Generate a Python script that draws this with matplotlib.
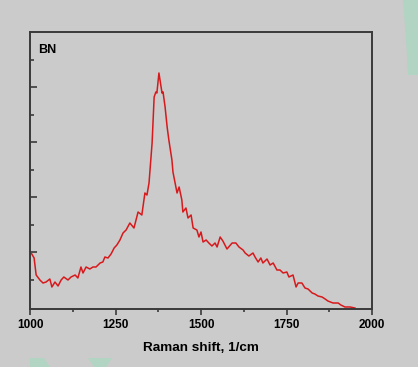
import matplotlib
matplotlib.use("Agg")
import matplotlib.pyplot as plt
from matplotlib.ticker import MultipleLocator
from matplotlib.patches import Polygon

plt.rcParams['font.family'] = ['Liberation Sans', 'DejaVu Sans']

# Raman spectrum of BN
shift = [1000, 1012, 1018, 1029, 1038, 1047, 1058, 1064, 1073, 1082, 1091, 1099,
         1111, 1120, 1132, 1140, 1149, 1155, 1164, 1175, 1184, 1193, 1205, 1213,
         1219, 1228, 1237, 1246, 1254, 1263, 1272, 1281, 1292, 1304, 1316, 1327,
         1336, 1342, 1348, 1357, 1363, 1368, 1371, 1377, 1386, 1389, 1395, 1401,
         1406, 1415, 1418, 1430, 1436, 1444, 1447, 1456, 1462, 1471, 1477, 1488,
         1494, 1500, 1506, 1515, 1523, 1532, 1541, 1547, 1556, 1564, 1576, 1591,
         1602, 1611, 1623, 1629, 1640, 1652, 1658, 1667, 1675, 1681, 1693, 1702,
         1711, 1722, 1731, 1740, 1751, 1757, 1769, 1778, 1784, 1795, 1804, 1813,
         1825, 1833, 1842, 1854, 1863, 1871, 1886, 1901, 1909, 1921, 1936, 1950]
intensity = [58, 51, 34, 29, 26, 27, 30, 22, 27, 23, 29, 32,
             29, 32, 34, 31, 42, 36, 42, 40, 42, 42, 46, 47,
             52, 51, 55, 61, 64, 69, 76, 79, 86, 81, 97, 94,
             116, 114, 126, 166, 212, 217, 216, 236, 216, 217, 202, 182,
             169, 149, 137, 116, 122, 109, 97, 101, 91, 94, 81, 79,
             72, 77, 67, 69, 66, 63, 66, 62, 72, 68, 60, 66,
             66, 62, 59, 56, 53, 56, 52, 47, 51, 46, 50, 44,
             46, 39, 39, 36, 37, 32, 34, 22, 26, 26, 21, 20,
             16, 15, 13, 12, 10, 8, 6, 6, 4, 2, 2, 1]

bg = '#cbcbcb'
fig = plt.figure(figsize=(4.18, 3.67), dpi=100, facecolor=bg)
ax = fig.add_axes([30/418, 1 - 309/367, 342/418, 277/367], facecolor=bg)

ax.plot(shift, intensity, color='#d7191c', lw=1.1)

ax.set_xlim(1000, 2000)
ax.set_ylim(0, 277)
ax.xaxis.set_major_locator(MultipleLocator(250))
ax.xaxis.set_minor_locator(MultipleLocator(125))
ax.set_yticks([57, 112, 167, 222])
ax.set_yticks([29.5, 84.5, 139.5, 194.5, 249.5], minor=True)
ax.set_yticklabels([])

for s in ax.spines.values():
    s.set_color('#3a3a3a')
    s.set_linewidth(1.4)
ax.tick_params(axis='x', which='major', direction='out', length=4, width=1.2,
               color='#3a3a3a', labelsize=8.5, pad=3)
ax.tick_params(axis='x', which='minor', direction='out', length=2.5, width=1.2,
               color='#3a3a3a')
ax.tick_params(axis='y', which='major', direction='in', length=5, width=1.2,
               color='#3a3a3a')
ax.tick_params(axis='y', which='minor', direction='in', length=3, width=1.2,
               color='#3a3a3a')
for lab in ax.get_xticklabels():
    lab.set_fontweight('bold')

ax.set_xlabel('Raman shift, 1/cm', fontsize=9.7, fontweight='bold', labelpad=8)
ax.text(0.024, 0.955, 'BN', transform=ax.transAxes, fontsize=9,
        fontweight='bold', va='top', ha='left')

# faint green watermark fragments at the picture edges
wm = '#a6d8c0'
def patch(pts):
    fig.patches.append(Polygon([(x / 418, 1 - y / 367) for x, y in pts],
                               closed=True, transform=fig.transFigure,
                               color=wm, alpha=0.7, lw=0))

patch([(403, 0), (418, 0), (418, 75), (408, 75), (406, 40)])
patch([(30, 358), (44, 358), (50, 367), (30, 367)])
patch([(88, 358), (112, 358), (106, 367), (94, 367)])

fig.savefig('out.png', dpi=100, facecolor=bg)
